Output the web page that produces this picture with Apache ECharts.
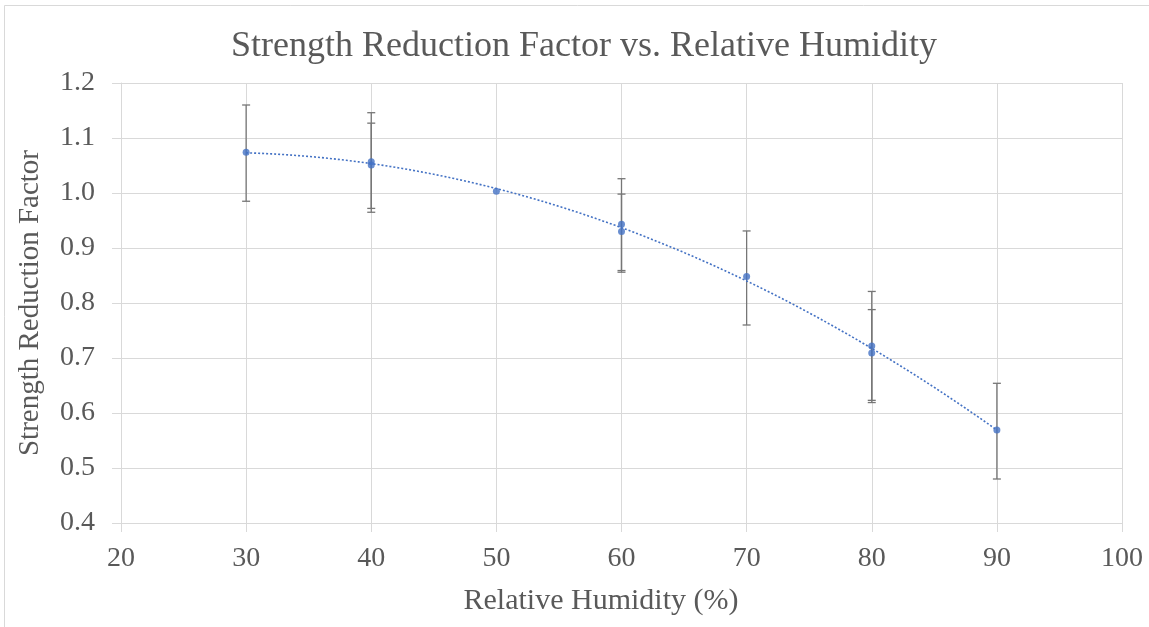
<!DOCTYPE html>
<html>
<head>
<meta charset="utf-8">
<script src="https://cdn.jsdelivr.net/npm/echarts@6/dist/echarts.min.js"></script>
<style>html,body{margin:0;padding:0;background:#fff}#c{width:1149px;height:627px}</style>
</head>
<body>
<div id="c"></div>
<script>
// ---- data ----
const humidity  = [30, 40, 40, 50, 60, 60, 70, 80, 80, 90];
const factor    = [1.074, 1.057, 1.051, 1.003, 0.943, 0.930, 0.848, 0.722, 0.709, 0.569];
const errHigh   = [1.160, 1.146, 1.127, null, 1.026, 0.998, 0.931, 0.821, 0.788, 0.654];
const errLow    = [0.985, 0.965, 0.972, null, 0.859, 0.856, 0.760, 0.623, 0.619, 0.480];
const xTicks    = [20, 30, 40, 50, 60, 70, 80, 90, 100];
const yTicks    = [0.4, 0.5, 0.6, 0.7, 0.8, 0.9, 1.0, 1.1, 1.2];

// ---- quadratic least-squares trend (like Excel polynomial trendline) ----
function polyFit2(xs, ys) {
  let n = xs.length, S = [0,0,0,0,0], T = [0,0,0];
  for (let i = 0; i < n; i++) {
    const x = xs[i], y = ys[i];
    let p = 1;
    for (let k = 0; k < 5; k++) { S[k] += p; if (k < 3) T[k] += p * y; p *= x; }
  }
  const A = [[S[0],S[1],S[2],T[0]],[S[1],S[2],S[3],T[1]],[S[2],S[3],S[4],T[2]]];
  for (let c = 0; c < 3; c++) {
    for (let r = c + 1; r < 3; r++) {
      const f = A[r][c] / A[c][c];
      for (let k = c; k < 4; k++) A[r][k] -= f * A[c][k];
    }
  }
  const b = [0,0,0];
  for (let r = 2; r >= 0; r--) {
    let s = A[r][3];
    for (let k = r + 1; k < 3; k++) s -= A[r][k] * b[k];
    b[r] = s / A[r][r];
  }
  return b;
}
const coef = polyFit2(humidity, factor);
const xMinData = Math.min(...humidity), xMaxData = Math.max(...humidity);
const trend = [];
for (let x = xMinData; x <= xMaxData + 1e-9; x += 0.5) {
  trend.push([x, coef[0] + coef[1] * x + coef[2] * x * x]);
}

const points = humidity.map((x, i) => [x, factor[i]]);
const bars = humidity.map((x, i) => [x, errLow[i], errHigh[i]]).filter(d => d[1] != null);

const FONT = 'Liberation Serif';
const TXT = '#595959';
const GRID = '#d9d9d9';

const chart = echarts.init(document.getElementById('c'));
chart.setOption({
  animation: false,
  backgroundColor: '#fff',
  graphic: [{
    type: 'rect', shape: { x: 4.5, y: 5.5, width: 1160, height: 640 },
    style: { fill: 'none', stroke: '#d9d9d9', lineWidth: 1 }, silent: true, z: -10
  }],
  title: {
    text: 'Strength Reduction Factor vs. Relative Humidity',
    left: 226, top: 24,
    textStyle: { fontFamily: FONT, fontSize: 36, fontWeight: 'normal', color: TXT }
  },
  grid: { left: 121, right: 27, top: 83, bottom: 104 },
  xAxis: {
    type: 'value', min: xTicks[0], max: xTicks[xTicks.length - 1], interval: 10,
    name: 'Relative Humidity (%)', nameLocation: 'middle', nameGap: 63,
    nameTextStyle: { fontFamily: FONT, fontSize: 30, color: TXT, padding: [0, 41, 0, 0] },
    axisLine: { show: true, lineStyle: { color: GRID, width: 1 } },
    axisTick: { show: true, length: 9, lineStyle: { color: GRID } },
    splitLine: { show: true, lineStyle: { color: GRID, width: 1 } },
    axisLabel: { fontFamily: FONT, fontSize: 28, color: TXT, margin: 22 }
  },
  yAxis: {
    type: 'value', min: yTicks[0], max: yTicks[yTicks.length - 1], interval: 0.1,
    name: 'Strength Reduction Factor', nameLocation: 'middle', nameGap: 76,
    nameTextStyle: { fontFamily: FONT, fontSize: 29, color: TXT },
    axisLine: { show: true, lineStyle: { color: GRID, width: 1 } },
    axisTick: { show: true, length: 9, lineStyle: { color: GRID } },
    splitLine: { show: true, lineStyle: { color: GRID, width: 1 } },
    axisLabel: { fontFamily: FONT, fontSize: 28, color: TXT, margin: 26,
      formatter: v => v.toFixed(1) }
  },
  series: [
    {
      type: 'line', data: trend, showSymbol: false, symbol: 'none', smooth: false,
      lineStyle: { color: '#4472C4', width: 1.6, type: [2, 2] }, z: 3, silent: true
    },
    {
      type: 'custom', data: bars, z: 2, silent: true,
      renderItem: function (params, api) {
        const x = api.value(0);
        const lo = api.coord([x, api.value(1)]);
        const hi = api.coord([x, api.value(2)]);
        const w = 4;
        const st = { stroke: '#767676', lineWidth: 1.3 };
        return {
          type: 'group', children: [
            { type: 'line', shape: { x1: lo[0], y1: lo[1], x2: hi[0], y2: hi[1] }, style: st },
            { type: 'line', shape: { x1: lo[0] - w, y1: lo[1], x2: lo[0] + w, y2: lo[1] }, style: st },
            { type: 'line', shape: { x1: hi[0] - w, y1: hi[1], x2: hi[0] + w, y2: hi[1] }, style: st }
          ]
        };
      }
    },
    {
      type: 'scatter', data: points, symbol: 'circle', symbolSize: 7,
      itemStyle: { color: '#4472C4' }, z: 4
    }
  ]
});
</script>
</body>
</html>
